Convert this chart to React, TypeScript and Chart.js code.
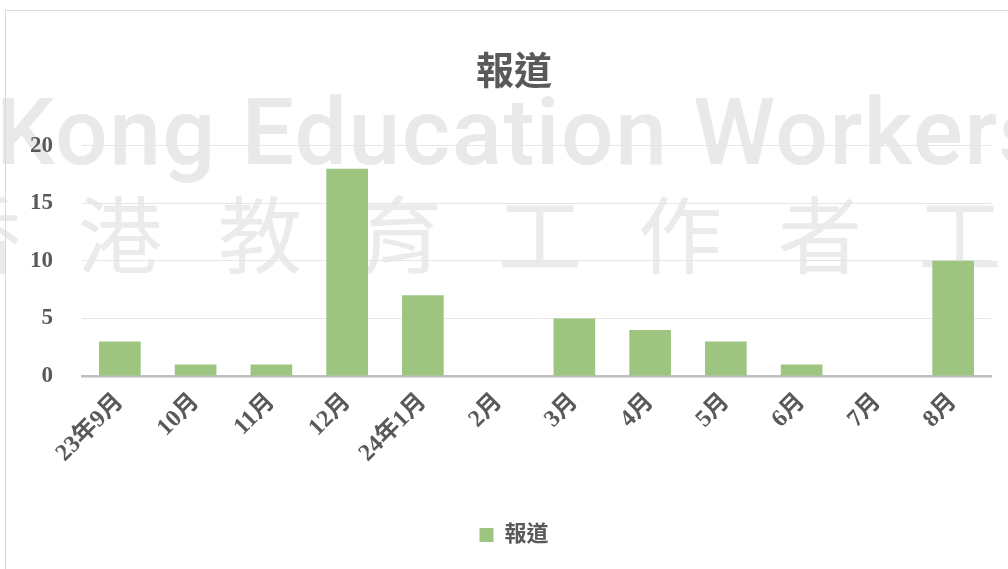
import React, { useEffect, useRef } from "react";
import { Chart, registerables } from "chart.js";

Chart.register(...registerables);

const categories = ["23年9月", "10月", "11月", "12月", "24年1月", "2月", "3月", "4月", "5月", "6月", "7月", "8月"];
const seriesName = "報道";
const values = [3, 1, 1, 18, 7, 0, 5, 4, 3, 1, 0, 10];
const yTicks = [0, 5, 10, 15, 20];
const watermarkLatin = "Kong Education Workers";
const watermarkCJK = "香港教育工作者工會";

const FONT = "'Liberation Serif', 'Noto Sans CJK TC', serif";
const TEXT = "#595959";
const BAR = "#9dc580";

export default function App() {
  const ref = useRef<HTMLCanvasElement | null>(null);

  useEffect(() => {
    if (!ref.current) return;
    const chart = new Chart(ref.current, {
      type: "bar",
      data: {
        labels: categories,
        datasets: [
          {
            label: seriesName,
            data: values,
            backgroundColor: BAR,
            borderWidth: 0,
            barPercentage: 0.55,
            categoryPercentage: 1,
            yAxisID: "y",
          },
        ],
      },
      options: {
        responsive: false,
        animation: false,
        layout: { padding: { left: 0, right: 0, top: 0, bottom: 15 } },
        plugins: {
          title: {
            display: true,
            text: seriesName,
            color: TEXT,
            font: { family: FONT, size: 38, weight: "bold" },
            padding: { top: 40, bottom: 49 },
          },
          legend: {
            display: true,
            position: "bottom",
            labels: {
              color: TEXT,
              boxWidth: 14,
              boxHeight: 14,
              padding: 10,
              font: { family: FONT, size: 22, weight: "bold" },
            },
          },
          tooltip: { enabled: false },
        },
        scales: {
          x: {
            grid: { display: false, drawTicks: false },
            border: { display: true, color: "#bfbfbf", width: 2.5 },
            ticks: {
              color: TEXT,
              font: { family: FONT, size: 24, weight: "bold" },
              minRotation: 45,
              maxRotation: 45,
              padding: 12,
              autoSkip: false,
            },
            afterFit: (s: any) => {
              s.height = 138;
            },
          },
          y: {
            min: 0,
            max: 20,
            afterBuildTicks: (s: any) => {
              s.ticks = yTicks.map((v) => ({ value: v }));
            },
            grid: { color: "#e6e6e6", lineWidth: 1, drawTicks: false },
            border: { display: false },
            ticks: {
              color: TEXT,
              font: { family: FONT, size: 23, weight: "bold" },
              padding: 29,
            },
            afterFit: (s: any) => {
              s.width = 76;
            },
          },
          yRightSpace: {
            position: "right",
            display: true,
            min: 0,
            max: 20,
            grid: { display: false, drawTicks: false },
            border: { display: false },
            ticks: { display: false },
            afterFit: (s: any) => {
              s.width = 31;
            },
          },
        },
      },
    });
    return () => chart.destroy();
  }, []);

  return (
    <div
      style={{
        position: "fixed",
        left: 0,
        top: 0,
        width: 1008,
        height: 569,
        overflow: "hidden",
        background: "#fff",
      }}
    >
      <div
        style={{
          position: "absolute",
          left: -4,
          top: 63,
          whiteSpace: "nowrap",
          fontFamily: "Roboto, 'Noto Sans', sans-serif",
          fontWeight: 500,
          fontSize: 93,
          letterSpacing: 1.5,
          color: "#e9e9e9",
          lineHeight: "140px",
        }}
      >
        {watermarkLatin}
      </div>
      <div
        style={{
          position: "absolute",
          left: -62,
          top: 171,
          whiteSpace: "nowrap",
          fontFamily: "'Noto Sans CJK TC', sans-serif",
          fontSize: 84,
          letterSpacing: 56,
          color: "#ebebeb",
          lineHeight: "120px",
        }}
      >
        {watermarkCJK}
      </div>
      <div
        style={{
          position: "absolute",
          left: 5,
          top: 10,
          width: 1018,
          height: 562,
          border: "1px solid #d9d9d9",
          boxSizing: "border-box",
        }}
      >
        <canvas ref={ref} width={1016} height={560} style={{ display: "block", width: 1016, height: 560 }} />
      </div>
    </div>
  );
}
